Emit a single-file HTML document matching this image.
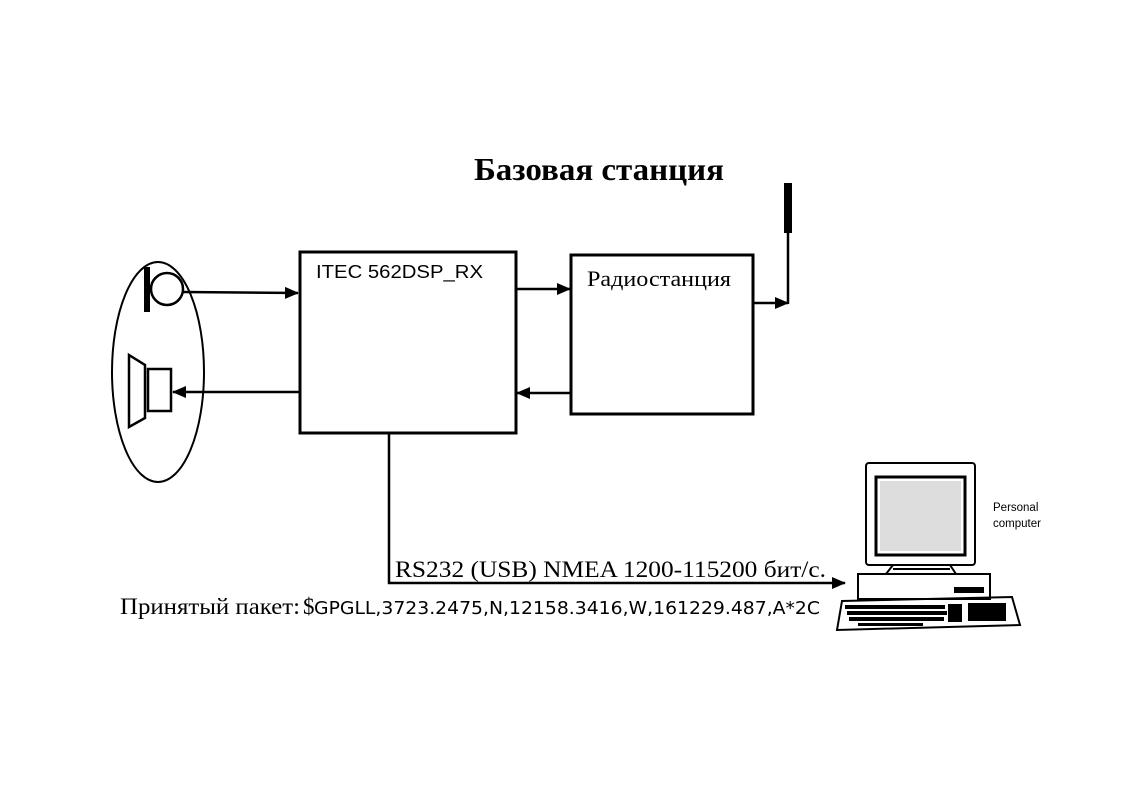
<!DOCTYPE html>
<html><head><meta charset="utf-8"><style>html,body{margin:0;padding:0;background:#fff}svg{display:block}</style></head>
<body>
<svg width="1133" height="787" viewBox="0 0 1133 787" xmlns="http://www.w3.org/2000/svg">
<defs><marker id="a" markerWidth="14" markerHeight="12" refX="13" refY="6" orient="auto" markerUnits="userSpaceOnUse"><path d="M0,0 L14,6 L0,12 z" fill="#000"/></marker></defs>
<text x="474" y="180" font-family="Liberation Serif,serif" font-weight="bold" font-size="32" textLength="250" lengthAdjust="spacingAndGlyphs">Базовая станция</text>
<g fill="none" stroke="#000">
<ellipse cx="158" cy="372" rx="46" ry="110" stroke-width="2"/>
<rect x="300" y="252" width="216" height="181" stroke-width="3"/>
<rect x="571" y="255" width="182" height="159" stroke-width="3"/>
<circle cx="167" cy="289" r="16" stroke-width="2.5"/>
<path d="M129,355 L145,365 L145,418 L129,427 Z" stroke-width="2.5"/>
<rect x="148" y="369" width="23" height="42" stroke-width="2.5"/>
<g stroke-width="2.5">
<line x1="183" y1="292" x2="298" y2="293" marker-end="url(#a)"/>
<line x1="299" y1="392" x2="173" y2="392" marker-end="url(#a)"/>
<line x1="517" y1="289" x2="570" y2="289" marker-end="url(#a)"/>
<line x1="570" y1="393" x2="517" y2="393" marker-end="url(#a)"/>
<line x1="754" y1="303" x2="788" y2="303" marker-end="url(#a)"/>
<line x1="788" y1="232" x2="788" y2="304"/>
<polyline points="389,434 389,583 845,583" marker-end="url(#a)"/>
</g>
</g>
<rect x="144" y="267" width="6" height="45" fill="#000"/>
<rect x="784" y="183" width="8" height="50" fill="#000"/>
<text x="316" y="278" font-family="Liberation Sans,sans-serif" font-size="18" textLength="167" lengthAdjust="spacingAndGlyphs">ITEC 562DSP_RX</text>
<text x="587" y="286" font-family="Liberation Serif,serif" font-size="22" textLength="144" lengthAdjust="spacingAndGlyphs">Радиостанция</text>
<text x="395" y="577" font-family="Liberation Serif,serif" font-size="23" textLength="431" lengthAdjust="spacingAndGlyphs">RS232 (USB)  NMEA 1200-115200  бит/с.</text>
<text x="120" y="614" font-family="Liberation Serif,serif" font-size="23" textLength="180" lengthAdjust="spacingAndGlyphs">Принятый пакет:</text>
<text x="303" y="614" font-family="Liberation Serif,serif" font-size="23">$</text>
<text x="314" y="614" font-family="DejaVu Sans,sans-serif" font-size="18" textLength="506" lengthAdjust="spacingAndGlyphs">GPGLL,3723.2475,N,12158.3416,W,161229.487,A*2C</text>
<g fill="none" stroke="#000" stroke-width="2">
<rect x="866" y="463" width="109" height="102" rx="3"/>
<rect x="876" y="477" width="89" height="78" stroke-width="3"/>
<path d="M893,565 L886,574 M950,565 L956,574 M893,569 L950,569"/>
<rect x="858" y="574" width="132" height="25"/>
<rect x="955" y="588" width="28" height="4" fill="#000"/>
<path d="M842,601 L1012,597 L1020,625 L837,630 Z"/>
</g>
<g fill="#000">
<rect x="845" y="605" width="100" height="4"/><rect x="847" y="611" width="100" height="4"/>
<rect x="849" y="617" width="95" height="4"/><rect x="858" y="623" width="65" height="3"/>
<rect x="948" y="604" width="14" height="18"/><rect x="968" y="603" width="38" height="18"/>
</g>
<rect x="880" y="481" width="81" height="70" fill="#ddd"/>
<text x="993" y="511" font-family="Liberation Sans,sans-serif" font-size="11.5">Personal</text>
<text x="993" y="527" font-family="Liberation Sans,sans-serif" font-size="11.5">computer</text>
</svg>
</body></html>
